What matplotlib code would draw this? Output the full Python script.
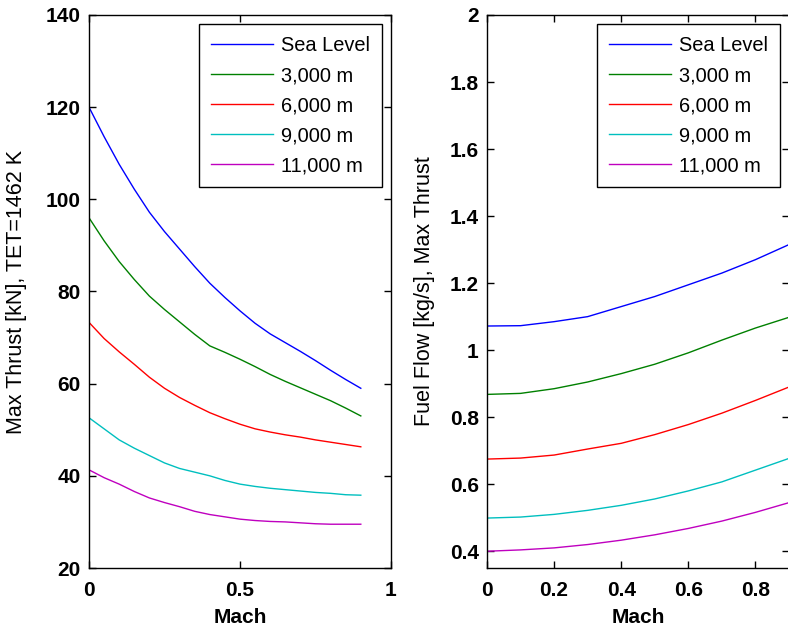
import matplotlib
matplotlib.use("Agg")
import matplotlib.pyplot as plt

labels = ["Sea Level", "3,000 m", "6,000 m", "9,000 m", "11,000 m"]
colors = ["#0000ff", "#008000", "#ff0000", "#00bfbf", "#bf00bf"]

# Left panel: max thrust [kN] vs Mach
mach_t = [0.0, 0.05, 0.1, 0.15, 0.2, 0.25, 0.3, 0.35, 0.4, 0.45,
          0.5, 0.55, 0.6, 0.65, 0.7, 0.75, 0.8, 0.85, 0.9]
thrust_sl = [120.0, 113.6, 107.6, 102.2, 97.2, 93.0, 89.2, 85.4, 81.8, 78.7,
             75.8, 73.1, 70.8, 68.9, 67.0, 65.0, 62.9, 60.9, 59.0]
thrust_3k = [96.0, 91.0, 86.5, 82.6, 79.0, 76.1, 73.4, 70.7, 68.2, 66.8,
             65.3, 63.7, 62.0, 60.5, 59.1, 57.7, 56.3, 54.7, 53.0]
thrust_6k = [73.3, 69.8, 66.9, 64.2, 61.4, 59.0, 57.0, 55.3, 53.7, 52.4,
             51.2, 50.2, 49.5, 48.9, 48.4, 47.8, 47.3, 46.8, 46.3]
thrust_9k = [52.6, 50.2, 47.8, 46.0, 44.4, 42.8, 41.6, 40.8, 40.0, 39.0,
             38.2, 37.7, 37.3, 37.0, 36.7, 36.4, 36.2, 35.9, 35.8]
thrust_11k = [41.3, 39.6, 38.2, 36.6, 35.2, 34.2, 33.3, 32.3, 31.6, 31.1,
              30.6, 30.3, 30.1, 30.0, 29.8, 29.6, 29.5, 29.5, 29.5]

# Right panel: fuel flow [kg/s] vs Mach
mach_f = [0.0, 0.1, 0.2, 0.3, 0.4, 0.5, 0.6, 0.7, 0.8, 0.9]
fuel_sl = [1.072, 1.073, 1.085, 1.100, 1.130, 1.160, 1.195, 1.230, 1.270, 1.315]
fuel_3k = [0.868, 0.871, 0.885, 0.905, 0.930, 0.958, 0.992, 1.030, 1.066, 1.098]
fuel_6k = [0.675, 0.678, 0.687, 0.705, 0.722, 0.748, 0.778, 0.812, 0.850, 0.890]
fuel_9k = [0.499, 0.502, 0.510, 0.522, 0.537, 0.556, 0.580, 0.607, 0.642, 0.677]
fuel_11k = [0.400, 0.404, 0.410, 0.420, 0.433, 0.449, 0.468, 0.490, 0.516, 0.545]

left_xticks = [0, 0.5, 1]
left_xticklabels = ["0", "0.5", "1"]
left_yticks = [20, 40, 60, 80, 100, 120, 140]
right_xticks = [0, 0.2, 0.4, 0.6, 0.8]
right_xticklabels = ["0", "0.2", "0.4", "0.6", "0.8"]
right_yticks = [0.4, 0.6, 0.8, 1.0, 1.2, 1.4, 1.6, 1.8, 2.0]
right_yticklabels = ["0.4", "0.6", "0.8", "1", "1.2", "1.4", "1.6", "1.8", "2"]

plt.rcParams['font.family'] = ['Liberation Sans', 'DejaVu Sans']

fig = plt.figure(figsize=(7.88, 6.31), dpi=100)
W, H = 788.0, 631.0
ax1 = fig.add_axes([89 / W, (H - 568) / H, (391 - 89) / W, (568 - 15) / H])
ax2 = fig.add_axes([487 / W, (H - 568) / H, (789 - 487) / W, (568 - 15) / H])

for y, lab, c in zip([thrust_sl, thrust_3k, thrust_6k, thrust_9k, thrust_11k], labels, colors):
    ax1.plot(mach_t, y, color=c, lw=1.0, label=lab)
for y, lab, c in zip([fuel_sl, fuel_3k, fuel_6k, fuel_9k, fuel_11k], labels, colors):
    ax2.plot(mach_f, y, color=c, lw=1.0, label=lab)

ax1.set_xlim(0, 1)
ax1.set_ylim(20, 140)
ax1.set_xticks(left_xticks)
ax1.set_xticklabels(left_xticklabels)
ax1.set_yticks(left_yticks)
ax1.set_yticklabels([str(v) for v in left_yticks])
ax1.set_ylabel("Max Thrust [kN], TET=1462 K", fontsize=15.5)

ax2.set_xlim(0, 0.9)
ax2.set_ylim(0.35, 2.0)
ax2.set_xticks(right_xticks)
ax2.set_xticklabels(right_xticklabels)
ax2.set_yticks(right_yticks)
ax2.set_yticklabels(right_yticklabels)
ax2.set_ylabel("Fuel Flow [kg/s], Max Thrust", fontsize=15.5)

for ax in (ax1, ax2):
    ax.set_xlabel("Mach", fontsize=15, fontweight="bold", labelpad=6)
    ax.tick_params(direction="in", length=5, width=1, top=True, right=True,
                   labelsize=15)
    ax.tick_params(axis="x", pad=9)
    ax.tick_params(axis="y", pad=6)
    for lbl in ax.get_xticklabels() + ax.get_yticklabels():
        lbl.set_fontweight("bold")
    for s in ax.spines.values():
        s.set_linewidth(1.0)
        s.set_color("black")
    leg = ax.legend(loc="upper right", fontsize=14.4, frameon=True, fancybox=False,
                    edgecolor="black", framealpha=1, handlelength=3.1,
                    labelspacing=0.55, borderaxespad=0.45, handletextpad=0.4,
                    borderpad=0.6)
    leg.get_frame().set_linewidth(1.0)

ax1.yaxis.set_label_coords(-0.205, 0.5)
ax2.yaxis.set_label_coords(-0.172, 0.5)

fig.savefig("out.png", dpi=100)
